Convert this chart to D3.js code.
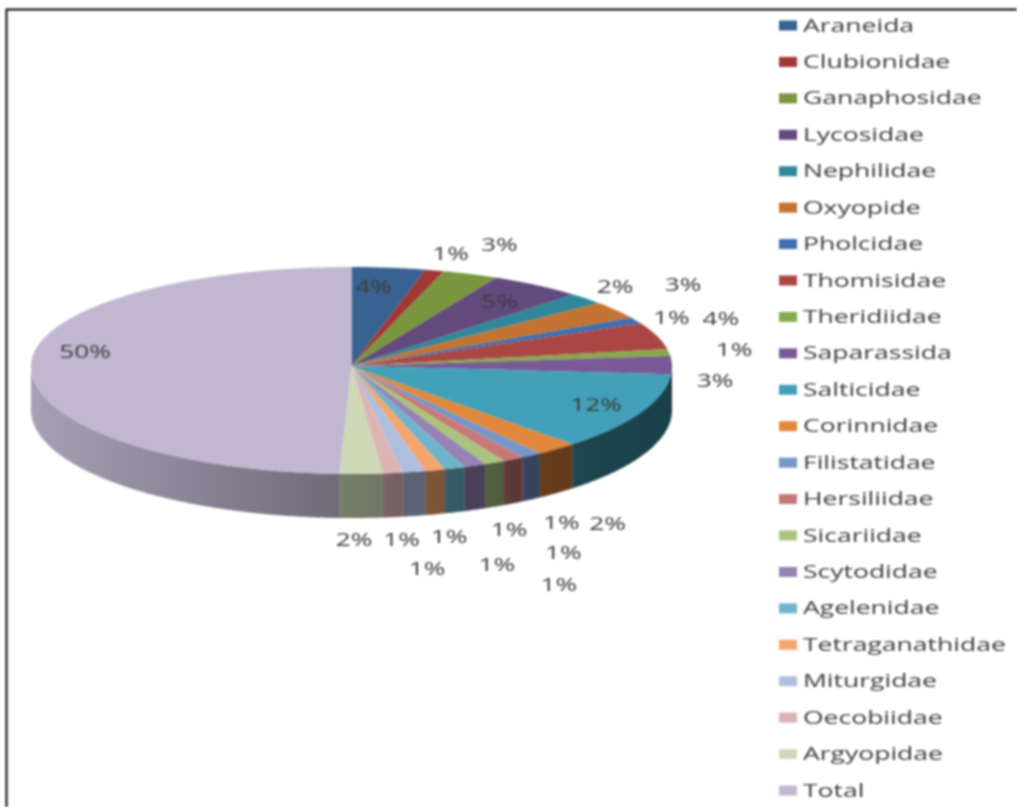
<!DOCTYPE html>
<html>
<head>
<meta charset="utf-8">
<script src="https://cdn.jsdelivr.net/npm/d3@7"></script>
<style>
  html, body { margin: 0; padding: 0; background: #fff; }
  svg { display: block; filter: blur(0.9px); }
  text { font-family: "Open Sans", sans-serif; fill: #3c3c3c; }
</style>
</head>
<body>
<div id="chart"></div>
<script>
// data
var families = ["Araneida", "Clubionidae", "Ganaphosidae", "Lycosidae", "Nephilidae", "Oxyopide",
  "Pholcidae", "Thomisidae", "Theridiidae", "Saparassida", "Salticidae", "Corinnidae", "Filistatidae",
  "Hersiliidae", "Sicariidae", "Scytodidae", "Agelenidae", "Tetraganathidae", "Miturgidae", "Oecobiidae",
  "Argyopidae", "Total"];
var shares = [3.7, 0.95, 2.8, 4.7, 1.85, 2.9, 1.05, 4.3, 1.15, 2.8, 11.7, 2.1, 1.05, 1.05, 1.05, 1.1,
  1.05, 1.0, 1.15, 1.0, 2.15, 49.4];
var shareLabels = ["4%", "1%", "3%", "5%", "2%", "3%", "1%", "4%", "1%", "3%", "12%", "2%", "1%", "1%",
  "1%", "1%", "1%", "1%", "1%", "1%", "2%", "50%"];
var colors = ["#386291", "#a03836", "#7a963e", "#624a7d", "#30879b", "#c37332", "#416eaf", "#aa4644",
  "#87aa4b", "#785a96", "#42a0b9", "#e1873c", "#7896c8", "#c87876", "#aac37d", "#9682b4", "#6eb4cd",
  "#f5a56e", "#afbedc", "#dcb4b4", "#cdd9b7", "#c1b7d0"];
// label nudges away from the middle of each slice's rim
var labelNudge = [[-15, 19], [16, -17], [29, -29], [-37, 17], [29, -12], [67, -25], [35, -3], [64, -17],
  [65, -3], [43, 16], [-45, -7], [51, 75], [30, 67], [50, 94], [64, 122], [34, 64], [42, 97], [14, 67],
  [13, 97], [9, 67], [-7, 66], [54, -12]];

var svgWidth = 1017;
var svgHeight = 807;

var pieX = 351.5;
var pieY = 366;
var radiusX = 320.5;
var radiusUp = 99;     // back of the pie is squashed more than the front
var radiusDown = 108;
var depth = 44;

var svg = d3.select("#chart")
  .append("svg")
  .attr("width", svgWidth)
  .attr("height", svgHeight);

// frame of the original figure
svg.append("path")
  .attr("d", `M6.5,${svgHeight}V9.5H${svgWidth}`)
  .attr("fill", "none")
  .attr("stroke", "#000")
  .attr("stroke-width", 2);

var slices = d3.pie().sort(null).startAngle(0).endAngle(2 * Math.PI)(shares);

function rim(angle) {
  var c = Math.cos(angle);
  return [pieX + radiusX * Math.sin(angle), pieY - c * (c > 0 ? radiusUp : radiusDown)];
}

function arcPoints(a0, a1) {
  var n = Math.max(2, Math.ceil((a1 - a0) / 0.01));
  return d3.range(n + 1).map(i => rim(a0 + (a1 - a0) * i / n));
}

var line = d3.line();

// side wall, only the front half shows
function sidePath(d) {
  var a0 = Math.max(d.startAngle, Math.PI / 2);
  var a1 = Math.min(d.endAngle, 3 * Math.PI / 2);
  if (a1 <= a0) return null;
  var top = arcPoints(a0, a1);
  var bottom = top.map(p => [p[0], p[1] + depth]).reverse();
  return line(top.concat(bottom)) + "Z";
}

var shade = svg.append("defs").append("linearGradient")
  .attr("id", "sideShade")
  .attr("gradientUnits", "userSpaceOnUse")
  .attr("x1", pieX - radiusX).attr("x2", pieX + radiusX)
  .attr("y1", 0).attr("y2", 0);
shade.selectAll("stop")
  .data([[0, 0.13], [0.48, 0.42], [0.6, 0.48], [0.84, 0.56], [1, 0.6]])
  .enter()
  .append("stop")
  .attr("offset", d => d[0])
  .attr("stop-color", "#000")
  .attr("stop-opacity", d => d[1]);

var sideGroup = svg.append("g");
sideGroup.selectAll("path.base")
  .data(slices)
  .enter()
  .append("path")
  .attr("class", "base")
  .attr("d", sidePath)
  .attr("fill", (d, i) => colors[i]);
sideGroup.selectAll("path.shade")
  .data(slices)
  .enter()
  .append("path")
  .attr("class", "shade")
  .attr("d", sidePath)
  .attr("fill", "url(#sideShade)");

// top face
svg.append("g").selectAll("path")
  .data(slices)
  .enter()
  .append("path")
  .attr("d", d => line([[pieX, pieY]].concat(arcPoints(d.startAngle, d.endAngle))) + "Z")
  .attr("fill", (d, i) => colors[i]);

// percent labels, stretched like the original picture
svg.append("g").selectAll("text")
  .data(slices)
  .enter()
  .append("text")
  .attr("transform", function(d, i) {
    var p = rim((d.startAngle + d.endAngle) / 2);
    return `translate(${p[0] + labelNudge[i][0]}, ${p[1] + labelNudge[i][1]}) scale(1.5, 1)`;
  })
  .attr("text-anchor", "middle")
  .attr("dy", "0.35em")
  .style("font-size", "17.5px")
  .text((d, i) => shareLabels[i]);

// legend
var legendY = d3.scalePoint()
  .domain(families)
  .range([25.5, 790.5]);

var legend = svg.append("g").selectAll("g")
  .data(families)
  .enter()
  .append("g")
  .attr("transform", d => `translate(779, ${legendY(d)})`);

legend.append("rect")
  .attr("y", -5)
  .attr("width", 18)
  .attr("height", 10)
  .attr("fill", (d, i) => colors[i]);

legend.append("text")
  .attr("transform", "translate(24, 0) scale(1.515, 1)")
  .attr("dy", "0.35em")
  .style("font-size", "17.5px")
  .text(d => d);
</script>
</body>
</html>
